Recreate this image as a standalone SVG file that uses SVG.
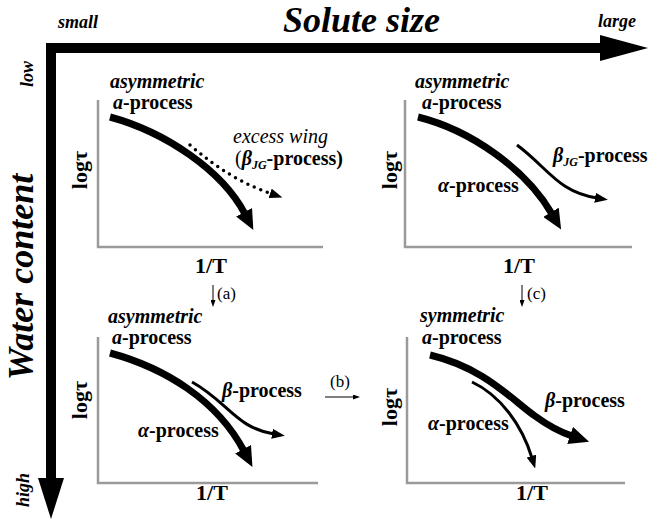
<svg xmlns="http://www.w3.org/2000/svg" width="650" height="520" viewBox="0 0 650 520" font-family="'Liberation Serif', 'Times New Roman', 'DejaVu Serif', serif">
<defs>
<style>
.ax{fill:none;stroke:#9a9a9a;stroke-width:2.5}
.thick{fill:none;stroke:#000;stroke-width:7;marker-end:url(#hd)}
.thin{fill:none;stroke:#000;stroke-width:3;marker-end:url(#hs)}
.dot{fill:none;stroke:#000;stroke-width:3.5;stroke-linecap:round;stroke-dasharray:0 7;marker-end:url(#hs)}
.small{fill:none;stroke:#000;stroke-width:1;marker-end:url(#ht)}
text{font-family:'Liberation Serif','Times New Roman','DejaVu Serif',serif;fill:#000}
.big{font-size:36px;font-weight:bold;font-style:italic}
.end{font-size:18px;font-weight:bold;font-style:italic}
.lab{font-size:20px;font-weight:bold}
.it{font-style:italic}
.exc{font-size:20px;font-style:italic}
.ylab{font-size:22px;font-weight:bold}
.step{font-size:17px}
</style>
<marker id="hd" markerUnits="userSpaceOnUse" viewBox="0 0 20 18" markerWidth="20" markerHeight="18" refX="2" refY="9" orient="auto"><path d="M0,0 L20,9 L0,18 z" fill="#000"/></marker>
<marker id="hs" markerUnits="userSpaceOnUse" viewBox="0 0 13 10" markerWidth="13" markerHeight="10" refX="2" refY="5" orient="auto"><path d="M0,0 L13,5 L0,10 z" fill="#000"/></marker>
<marker id="ht" markerUnits="userSpaceOnUse" viewBox="0 0 7 5" markerWidth="7" markerHeight="5" refX="1" refY="2.5" orient="auto"><path d="M0,0 L7,2.5 L0,5 z" fill="#000"/></marker>
</defs>

<g id="axis-solute">
<rect x="46" y="43" width="556" height="10" fill="#000"/>
<path d="M600,35 L648,48 L600,61 z" fill="#000"/>
<text class="big" x="283" y="32">Solute size</text>
<text class="end" x="58" y="28">small</text>
<text class="end" x="598" y="27">large</text>
</g>

<g id="axis-water">
<rect x="46" y="43" width="10" height="437" fill="#000"/>
<path d="M38,478 L64,478 L51,519 z" fill="#000"/>
<text class="big" text-anchor="middle" transform="translate(33,277) rotate(-90)">Water content</text>
<text class="end" text-anchor="middle" transform="translate(33,74) rotate(-90)">low</text>
<text class="end" text-anchor="middle" transform="translate(29,490) rotate(-90)">high</text>
</g>

<g id="panel-1">
<path class="ax" d="M98,100 V247 H323"/>
<text class="ylab" text-anchor="middle" transform="translate(87,170) rotate(-90)">logτ</text>
<text class="ylab" text-anchor="middle" x="211" y="273">1/T</text>
<text class="lab it" x="110" y="88">asymmetric</text>
<text class="lab" x="113" y="109"><tspan class="it">a</tspan>-process</text>
<text class="exc" x="233" y="143">excess wing</text>
<text class="lab" x="235" y="165"><tspan font-weight="normal">(</tspan><tspan class="it">β</tspan><tspan class="it" font-size="12" dy="4">JG</tspan><tspan dy="-4">-process)</tspan></text>
<path class="dot" d="M190,145 Q230,180 272,194"/>
<path class="thick" d="M110,117 C165,132 222,170 245,214"/>
</g>

<g id="panel-2">
<path class="ax" d="M405,100 V247 H632"/>
<text class="ylab" text-anchor="middle" transform="translate(397,170) rotate(-90)">logτ</text>
<text class="ylab" text-anchor="middle" x="519" y="273">1/T</text>
<text class="lab it" x="415" y="88">asymmetric</text>
<text class="lab" x="422" y="109"><tspan class="it">a</tspan>-process</text>
<text class="lab" x="553" y="162"><tspan class="it">β</tspan><tspan class="it" font-size="12" dy="4">JG</tspan><tspan dy="-4">-process</tspan></text>
<text class="lab" x="438" y="192"><tspan class="it">α</tspan>-process</text>
<path class="thick" d="M418,117 C470,130 525,168 552,214"/>
<path class="thin" d="M517,145 C548,168 558,192 597,198"/>
</g>

<g id="panel-3">
<path class="ax" d="M98,337 V483 H318"/>
<text class="ylab" text-anchor="middle" transform="translate(87,400) rotate(-90)">logτ</text>
<text class="ylab" text-anchor="middle" x="212" y="500">1/T</text>
<text class="lab it" x="108" y="323">asymmetric</text>
<text class="lab" x="112" y="344"><tspan class="it">a</tspan>-process</text>
<text class="lab" x="222" y="397"><tspan class="it">β</tspan>-process</text>
<text class="lab" x="138" y="437"><tspan class="it">α</tspan>-process</text>
<path class="thick" d="M110,353 C165,368 217,400 244,451"/>
<path class="thin" d="M192,382 C228,402 236,428 274,434"/>
</g>

<g id="panel-4">
<path class="ax" d="M407,337 V483 H625"/>
<text class="ylab" text-anchor="middle" transform="translate(397,407) rotate(-90)">logτ</text>
<text class="ylab" text-anchor="middle" x="532" y="500">1/T</text>
<text class="lab it" x="420" y="322">symmetric</text>
<text class="lab" x="422" y="344"><tspan class="it">a</tspan>-process</text>
<text class="lab" x="545" y="407"><tspan class="it">β</tspan>-process</text>
<text class="lab" x="428" y="430"><tspan class="it">α</tspan>-process</text>
<path class="thick" d="M430,355 C485,368 512,400 535,416 C550,427 560,432 572,436"/>
<path class="thin" d="M472,382 C500,395 522,425 532,458"/>
</g>

<g id="connectors">
<path class="small" d="M213,285 V301"/>
<text class="step" x="217" y="299">(a)</text>
<path class="small" d="M522,285 V301"/>
<text class="step" x="527" y="299">(c)</text>
<path class="small" d="M325,397 H354"/>
<text class="step" x="330" y="387">(b)</text>
</g>
</svg>
